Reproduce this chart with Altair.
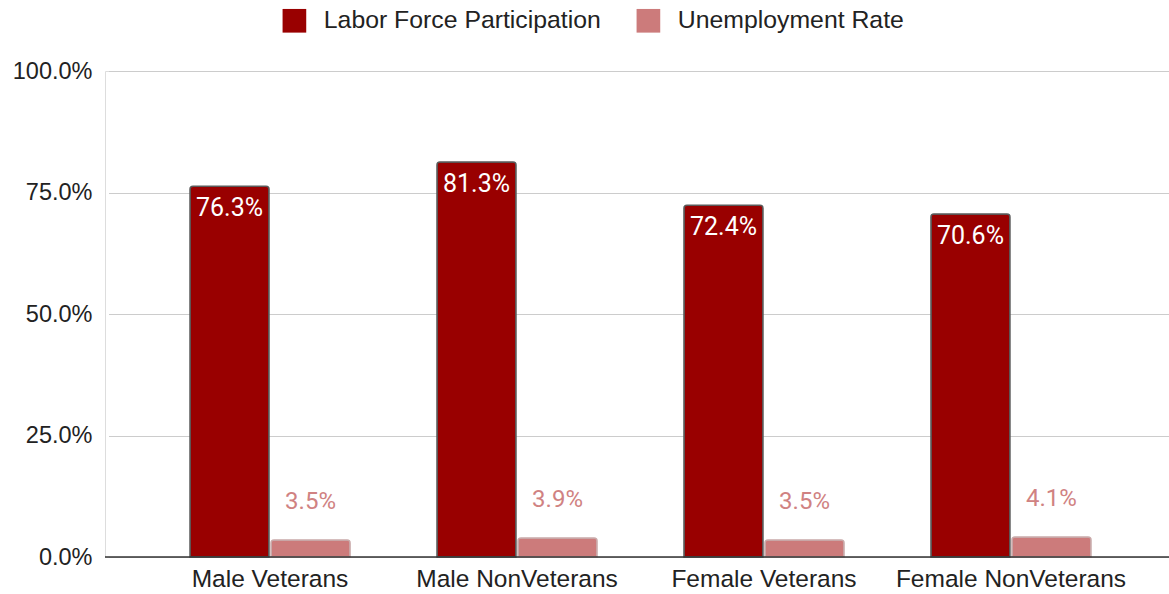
import altair as alt
import pandas as pd

categories = ["Male Veterans", "Male NonVeterans", "Female Veterans", "Female NonVeterans"]
series_names = ["Labor Force Participation", "Unemployment Rate"]
labor_force = [76.3, 81.3, 72.4, 70.6]
unemployment = [3.5, 3.9, 3.5, 4.1]
y_ticks = [0, 0.25, 0.5, 0.75, 1.0]

colors = ["#990000", "#cc7b7b"]
strokes = ["#5a5a5a", "#c9a9a9"]

rows = []
for i, c in enumerate(categories):
    rows.append({"cat": c, "series": series_names[0], "value": labor_force[i] / 100})
    rows.append({"cat": c, "series": series_names[1], "value": unemployment[i] / 100})
df = pd.DataFrame(rows)

FONT = "Liberation Sans"

x = alt.X("cat:N", sort=categories, title=None,
          scale=alt.Scale(paddingInner=0.352, paddingOuter=0.33, range=[3.5, 1067.5]),
          axis=alt.Axis(labelAngle=0, labelFont=FONT, labelFontSize=24.5, labelColor="#222222",
                        labelPadding=10, ticks=False, domain=False, labelLimit=0,
                        grid=False))
xo = alt.XOffset("series:N", sort=series_names, scale=alt.Scale(paddingInner=0.025))
y = alt.Y("value:Q", title=None,
          scale=alt.Scale(domain=[0, 1], nice=False),
          axis=alt.Axis(format=".1%", values=y_ticks, labelFont=FONT, labelFontSize=23.5,
                        labelColor="#222222", labelPadding=13, ticks=False, domain=False,
                        gridColor="#cccccc", gridWidth=1.2))

base = alt.Chart(df)

bars = base.mark_bar(cornerRadiusTopLeft=3, cornerRadiusTopRight=3, strokeWidth=1.5).encode(
    x=x, xOffset=xo, y=y,
    color=alt.Color("series:N", sort=series_names,
                    scale=alt.Scale(domain=series_names, range=colors),
                    legend=alt.Legend(title=None, orient="none", legendX=177, legendY=-63,
                                      direction="horizontal", symbolType="square",
                                      symbolSize=560, symbolStrokeWidth=0, labelFont=FONT,
                                      labelFontSize=24.8, labelColor="#222222", labelOffset=17,
                                      columnPadding=35, symbolOpacity=1, labelLimit=0)),
    stroke=alt.Stroke("series:N", scale=alt.Scale(domain=series_names, range=strokes), legend=None),
)

zero_line = alt.Chart(pd.DataFrame({"v": [0]})).mark_rule(color="#333333", strokeWidth=1.5).encode(
    y=alt.Y("v:Q"), x=alt.value(0), x2=alt.value(1064)
)

dark_text = base.transform_filter(alt.datum.series == series_names[0]).mark_text(
    baseline="top", dy=10, font="Roboto", fontSize=25, color="white"
).encode(x=x, xOffset=xo, y=y, text=alt.Text("value:Q", format=".1%"))

light_text = base.transform_filter(alt.datum.series == series_names[1]).mark_text(
    baseline="alphabetic", dy=-31, font="Roboto", fontSize=24, color="#d08282"
).encode(x=x, xOffset=xo, y=y, text=alt.Text("value:Q", format=".1%"))

chart = alt.layer(bars, zero_line, dark_text, light_text).properties(
    width=1064, height=486,
    autosize=alt.AutoSizeParams(type="none"),
    padding={"left": 105, "top": 71, "right": 0, "bottom": 37},
).configure_view(stroke=None).configure(background="white")

chart.save("out.html", embed_options={"renderer": "svg", "actions": False})
